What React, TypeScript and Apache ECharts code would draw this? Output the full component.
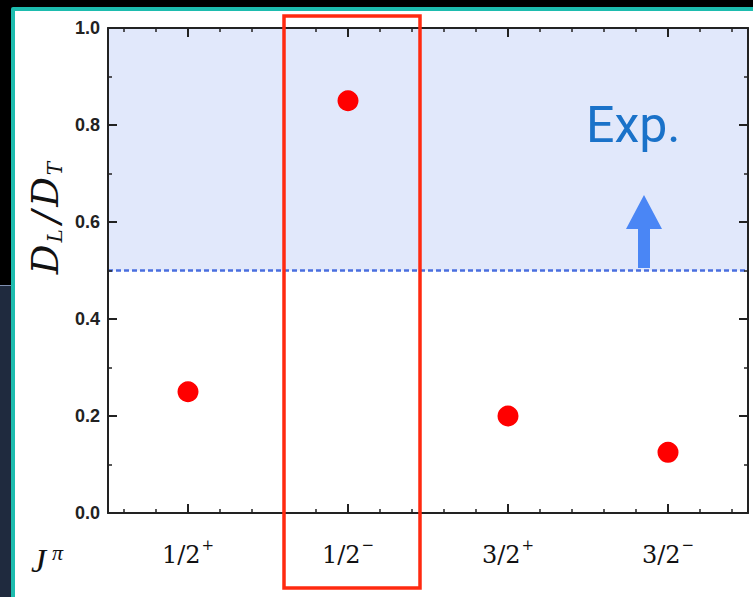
import React, { useEffect, useRef } from "react";
import * as echarts from "echarts";

const categories = ["1/2+", "1/2-", "3/2+", "3/2-"];
const ratioValues = [0.25, 0.85, 0.2, 0.125];
const expThreshold = 0.5;
const yTicks = { min: 0, max: 1, interval: 0.2 };
const minorSlots = Array.from({ length: 20 }, (_, i) => "m" + i);

export default function App() {
  const ref = useRef<HTMLDivElement>(null);
  useEffect(() => {
    if (!ref.current) return;
    const chart = echarts.init(ref.current, undefined, { renderer: "svg" });
    const axisLine = { show: true, lineStyle: { color: "#222", width: 2 } };
    const majorTick = { show: true, inside: true, length: 9, alignWithLabel: true, interval: 0, lineStyle: { color: "#222", width: 2 } };
    const minorTickCat = { show: true, inside: true, length: 4, alignWithLabel: true, interval: 0, lineStyle: { color: "#222", width: 1.5 } };
    const catLabel = (v: string) => {
      const base = v.slice(0, 3);
      const sign = v.slice(3) === "+" ? "+" : "−";
      return "{n|" + base + "}{s|" + sign + "}";
    };
    chart.setOption({
      animation: false,
      grid: { left: 108, top: 28, width: 640, height: 485 },
      xAxis: [
        {
          type: "category", data: categories, position: "bottom", boundaryGap: true, z: 10,
          axisLine, axisTick: majorTick,
          axisLabel: {
            interval: 0, margin: 24, formatter: catLabel,
            rich: {
              n: { fontFamily: "DejaVu Serif", fontSize: 24, lineHeight: 30, color: "#111", verticalAlign: "bottom" },
              s: { fontFamily: "DejaVu Serif", fontSize: 15, lineHeight: 30, color: "#111", verticalAlign: "top", padding: [0, 0, 0, 1] },
            },
          },
          splitLine: { show: false },
        },
        {
          type: "category", data: minorSlots, position: "bottom", boundaryGap: true, z: 10,
          axisLine: { show: false }, axisTick: minorTickCat, axisLabel: { show: false, interval: 0 },
        },
        {
          type: "category", data: categories, position: "top", boundaryGap: true, z: 10,
          axisLine, axisTick: majorTick, axisLabel: { show: false },
        },
        {
          type: "category", data: minorSlots, position: "top", boundaryGap: true, z: 10,
          axisLine: { show: false }, axisTick: minorTickCat, axisLabel: { show: false, interval: 0 },
        },
      ],
      yAxis: [
        {
          type: "value", min: yTicks.min, max: yTicks.max, interval: yTicks.interval, position: "left", z: 10,
          axisLine, axisTick: { show: true, inside: true, length: 9, lineStyle: { color: "#222", width: 2 } },
          minorTick: { show: true, splitNumber: 2, length: 4, lineStyle: { color: "#222", width: 1.5 } },
          splitLine: { show: false },
          axisLabel: { margin: 8, fontFamily: "Liberation Sans", fontWeight: "bold", fontSize: 18, color: "#222", formatter: (v: number) => v.toFixed(1) },
        },
        {
          type: "value", min: yTicks.min, max: yTicks.max, interval: yTicks.interval, position: "right", z: 10,
          axisLine, axisTick: { show: true, inside: true, length: 9, lineStyle: { color: "#222", width: 2 } },
          minorTick: { show: true, splitNumber: 2, length: 4, lineStyle: { color: "#222", width: 1.5 } },
          splitLine: { show: false }, axisLabel: { show: false },
        },
      ],
      series: [
        {
          type: "scatter", xAxisIndex: 0, yAxisIndex: 0,
          data: ratioValues, symbolSize: 21, itemStyle: { color: "#ff0000", opacity: 1 }, z: 5,
          markArea: {
            silent: true,
            itemStyle: { color: "#e1e8fb" },
            data: [[{ yAxis: expThreshold }, { yAxis: yTicks.max }]],
          },
          markLine: {
            silent: true, symbol: "none", label: { show: false },
            lineStyle: { color: "#4a6fdf", width: 2.5, type: [5, 3] },
            data: [{ yAxis: expThreshold }],
          },
        },
      ],
      graphic: [
        {
          type: "rect", shape: { x: 284, y: 16, width: 136, height: 572 }, z: 20,
          style: { fill: "none", stroke: "#ff2a10", lineWidth: 3.5 },
        },
        {
          type: "polygon", z: 20,
          shape: { points: [[644, 195], [662, 229], [650, 229], [650, 268], [638, 268], [638, 229], [626, 229]] },
          style: { fill: "#4a86f5" },
        },
        {
          type: "text", x: 586, y: 150, z: 20,
          style: { text: "Exp.", font: "50px Roboto", fill: "#1a72c9", textVerticalAlign: "bottom" },
        },
        {
          type: "text", x: 45, y: 217, rotation: Math.PI / 2, z: 20,
          style: {
            text: "{a|D}{s|L}{a|/}{a|D}{s|T}",
            textAlign: "center", textVerticalAlign: "middle",
            rich: {
              a: { fontFamily: "DejaVu Serif", fontStyle: "italic", fontSize: 37, lineHeight: 40, fill: "#111", verticalAlign: "middle", padding: [0, 2, 0, 2] },
              s: { fontFamily: "DejaVu Serif", fontStyle: "italic", fontSize: 20, lineHeight: 40, fill: "#111", verticalAlign: "bottom", padding: [0, 4, 0, 0] },
            },
          },
        },
        {
          type: "text", x: 31, y: 560, z: 20,
          style: {
            text: "{a|J}{p|π}",
            textVerticalAlign: "middle",
            rich: {
              a: { fontFamily: "Liberation Serif", fontStyle: "italic", fontSize: 34, lineHeight: 38, fill: "#111", verticalAlign: "middle" },
              p: { fontFamily: "Liberation Serif", fontStyle: "italic", fontSize: 22, lineHeight: 38, fill: "#111", verticalAlign: "top", padding: [0, 0, 0, 6] },
            },
          },
        },
      ],
    });
    return () => chart.dispose();
  }, []);

  return (
    <div style={{ position: "fixed", left: 0, top: 0, width: 753, height: 597, background: "#000", overflow: "hidden" }}>
      <div style={{ position: "absolute", left: 0, top: 285, width: 11, height: 312, background: "#1f2a3e", borderTop: "1px solid #7f8fb0" }} />
      <div style={{ position: "absolute", left: 11, top: 7, right: 0, bottom: 0, background: "#1dbcae", borderTopLeftRadius: 2 }} />
      <div style={{ position: "absolute", left: 15, top: 11, right: 0, bottom: 0, background: "#fff" }} />
      <div ref={ref} style={{ position: "absolute", left: 0, top: 0, width: 753, height: 597 }} />
    </div>
  );
}
